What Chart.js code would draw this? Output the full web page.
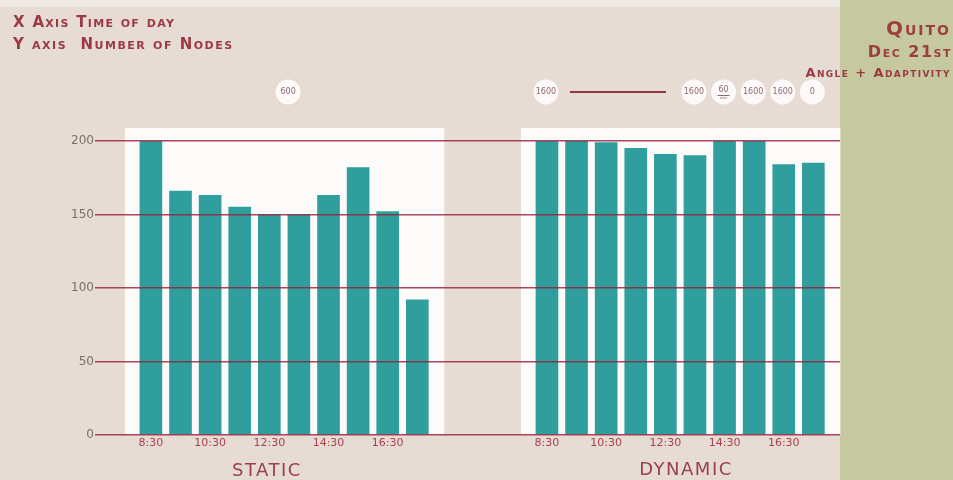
<!DOCTYPE html>
<html>
<head>
<meta charset="utf-8">
<script src="https://cdn.jsdelivr.net/npm/chart.js@4/dist/chart.umd.min.js"></script>
<style>
  html, body { margin: 0; padding: 0; background: #e6dcd4; }
  #wrap { position: relative; width: 953px; height: 480px; overflow: hidden; }
  #chart { position: absolute; left: 0; top: 0; }
  .note { position: absolute; font-family: "DejaVu Sans", sans-serif; font-weight: bold;
          font-variant: small-caps; color: #9c3a44; white-space: nowrap; line-height: 1; }
  .group { position: absolute; font-family: "DejaVu Sans", sans-serif; color: #9a3f4d; line-height: 1;
           font-size: 18px; letter-spacing: 1.5px; transform: translateX(-50%); }
</style>
</head>
<body>
<div id="wrap">
  <canvas id="chart" width="953" height="480"></canvas>
  <div class="note" style="left:13px;top:15px;font-size:15px;letter-spacing:1.3px">X Axis Time of day</div>
  <div class="note" style="left:13px;top:37px;font-size:15px;letter-spacing:1.5px">Y axis&nbsp; Number of Nodes</div>
  <div class="note" style="right:2px;top:18px;font-size:20px;letter-spacing:2px;color:#9b4040">Quito</div>
  <div class="note" style="right:1px;top:44px;font-size:16px;letter-spacing:1.5px;color:#9b4040">Dec 21st</div>
  <div class="note" style="right:2px;top:66px;font-size:13px;letter-spacing:1.4px">Angle + Adaptivity</div>
  <div class="group" style="left:267px;top:461px">STATIC</div>
  <div class="group" style="left:686px;top:460px">DYNAMIC</div>
</div>
<script>
document.addEventListener("DOMContentLoaded", function() {
    // Time of day for each bar (same slots in both groups)
    const times = ['8:30', '9:30', '10:30', '11:30', '12:30', '13:30', '14:30', '15:30', '16:30', '17:30'];
    const staticNodes = [200, 166, 163, 155, 150, 150, 163, 182, 152, 92];
    const dynamicNodes = [200, 200, 199, 195, 191, 190, 200, 200, 184, 185];
    const yTicks = [0, 50, 100, 150, 200];
    const xTickSlots = [0, 2, 4, 6, 8];
    // Parameter bubbles above the groups
    const staticParam = '600';
    const dynamicParams = ['1600', '', '', '', '', '1600', '60', '1600', '1600', '0'];

    const DYN_OFFSET = 13.38; // where the dynamic group starts on the x axis
    const teal = '#319e9e';
    const gridColor = 'rgba(150, 32, 58, 0.82)';

    const panels = {
        id: 'panels',
        beforeDraw(chart) {
            const { ctx, chartArea: a, width, height } = chart;
            ctx.save();
            ctx.fillStyle = '#e6dcd4';
            ctx.fillRect(0, 0, width, height);
            ctx.fillStyle = '#efe9e5';
            ctx.fillRect(0, 0, a.right, 7);
            ctx.fillStyle = '#c6c89f';
            ctx.fillRect(a.right, 0, width - a.right, height);
            ctx.restore();
        },
        beforeDatasetsDraw(chart) {
            const { ctx } = chart;
            const x = chart.scales.x, y = chart.scales.y;
            const top = y.getPixelForValue(200) - 13;
            const bottom = y.getPixelForValue(0);
            ctx.save();
            ctx.fillStyle = '#fdfafa';
            [0, DYN_OFFSET].forEach(function(off) {
                const l = x.getPixelForValue(off) - 26;
                const r = x.getPixelForValue(off + times.length - 1) + 27;
                ctx.fillRect(l, top, r - l, bottom - top);
            });
            ctx.restore();
        },
        afterDraw(chart) {
            const { ctx } = chart;
            const x = chart.scales.x;
            const cy = 92;
            ctx.save();

            // Line joining the first dynamic bubble to the next one
            const first = dynamicParams.findIndex(p => p !== '');
            const next = dynamicParams.findIndex((p, i) => i > first && p !== '');
            ctx.strokeStyle = '#8c3a42';
            ctx.lineWidth = 2;
            ctx.beginPath();
            ctx.moveTo(x.getPixelForValue(DYN_OFFSET + first) + 23, cy);
            ctx.lineTo(x.getPixelForValue(DYN_OFFSET + next) - 29, cy);
            ctx.stroke();

            function bubble(px, text) {
                ctx.fillStyle = '#fdf9f9';
                ctx.beginPath();
                ctx.arc(px, cy, 12.5, 0, Math.PI * 2);
                ctx.fill();
                ctx.fillStyle = '#8e6a72';
                ctx.font = '8px "DejaVu Sans", sans-serif';
                ctx.textAlign = 'center';
                ctx.textBaseline = 'middle';
                if (text === '60') {
                    ctx.fillText(text, px, cy - 2);
                    ctx.fillRect(px - 6, cy + 3, 12, 1);
                    ctx.font = '4px sans-serif';
                    ctx.fillText('min', px, cy + 6);
                } else {
                    ctx.fillText(text, px, cy);
                }
            }

            bubble(x.getPixelForValue((times.length - 1) / 2) + 4, staticParam);
            dynamicParams.forEach(function(p, i) {
                if (p !== '') bubble(x.getPixelForValue(DYN_OFFSET + i) - 1, p);
            });
            ctx.restore();
        }
    };

    const ctx = document.getElementById('chart').getContext('2d');
    new Chart(ctx, {
        type: 'bar',
        data: {
            datasets: [{
                label: 'Static',
                data: staticNodes.map((v, i) => ({ x: i, y: v })),
                backgroundColor: teal
            }, {
                label: 'Dynamic',
                data: dynamicNodes.map((v, i) => ({ x: DYN_OFFSET + i, y: v })),
                backgroundColor: teal
            }]
        },
        options: {
            responsive: false,
            animation: false,
            datasets: { bar: { barThickness: 22, grouped: false } },
            layout: { padding: { left: 0, right: 113, top: 141, bottom: 0 } },
            scales: {
                x: {
                    type: 'linear',
                    offset: false,
                    min: -1.72,
                    max: 23.28,
                    grid: { display: false, drawTicks: false },
                    border: { display: false },
                    afterBuildTicks: function(scale) {
                        const vals = xTickSlots.concat(xTickSlots.map(s => s + DYN_OFFSET));
                        scale.ticks = vals.map(v => ({ value: v }));
                    },
                    afterFit: function(scale) { scale.height = 45; },
                    ticks: {
                        autoSkip: false,
                        maxRotation: 0,
                        padding: 2,
                        color: '#a8404e',
                        font: { family: 'DejaVu Sans', size: 11 },
                        callback: function(value) {
                            const i = value >= DYN_OFFSET - 0.5 ? value - DYN_OFFSET : value;
                            return times[Math.round(i)];
                        }
                    }
                },
                y: {
                    min: 0,
                    max: 200,
                    afterBuildTicks: function(scale) {
                        scale.ticks = yTicks.map(v => ({ value: v }));
                    },
                    afterFit: function(scale) { scale.width = 100; },
                    grid: {
                        color: gridColor,
                        lineWidth: 1.5,
                        tickLength: 5,
                        z: 1
                    },
                    border: { display: false },
                    ticks: {
                        padding: 1,
                        color: '#7d6e6a',
                        font: { family: 'DejaVu Sans', size: 12 }
                    }
                }
            },
            plugins: {
                legend: { display: false },
                tooltip: { enabled: false }
            }
        },
        plugins: [panels]
    });
});
</script>
</body>
</html>
